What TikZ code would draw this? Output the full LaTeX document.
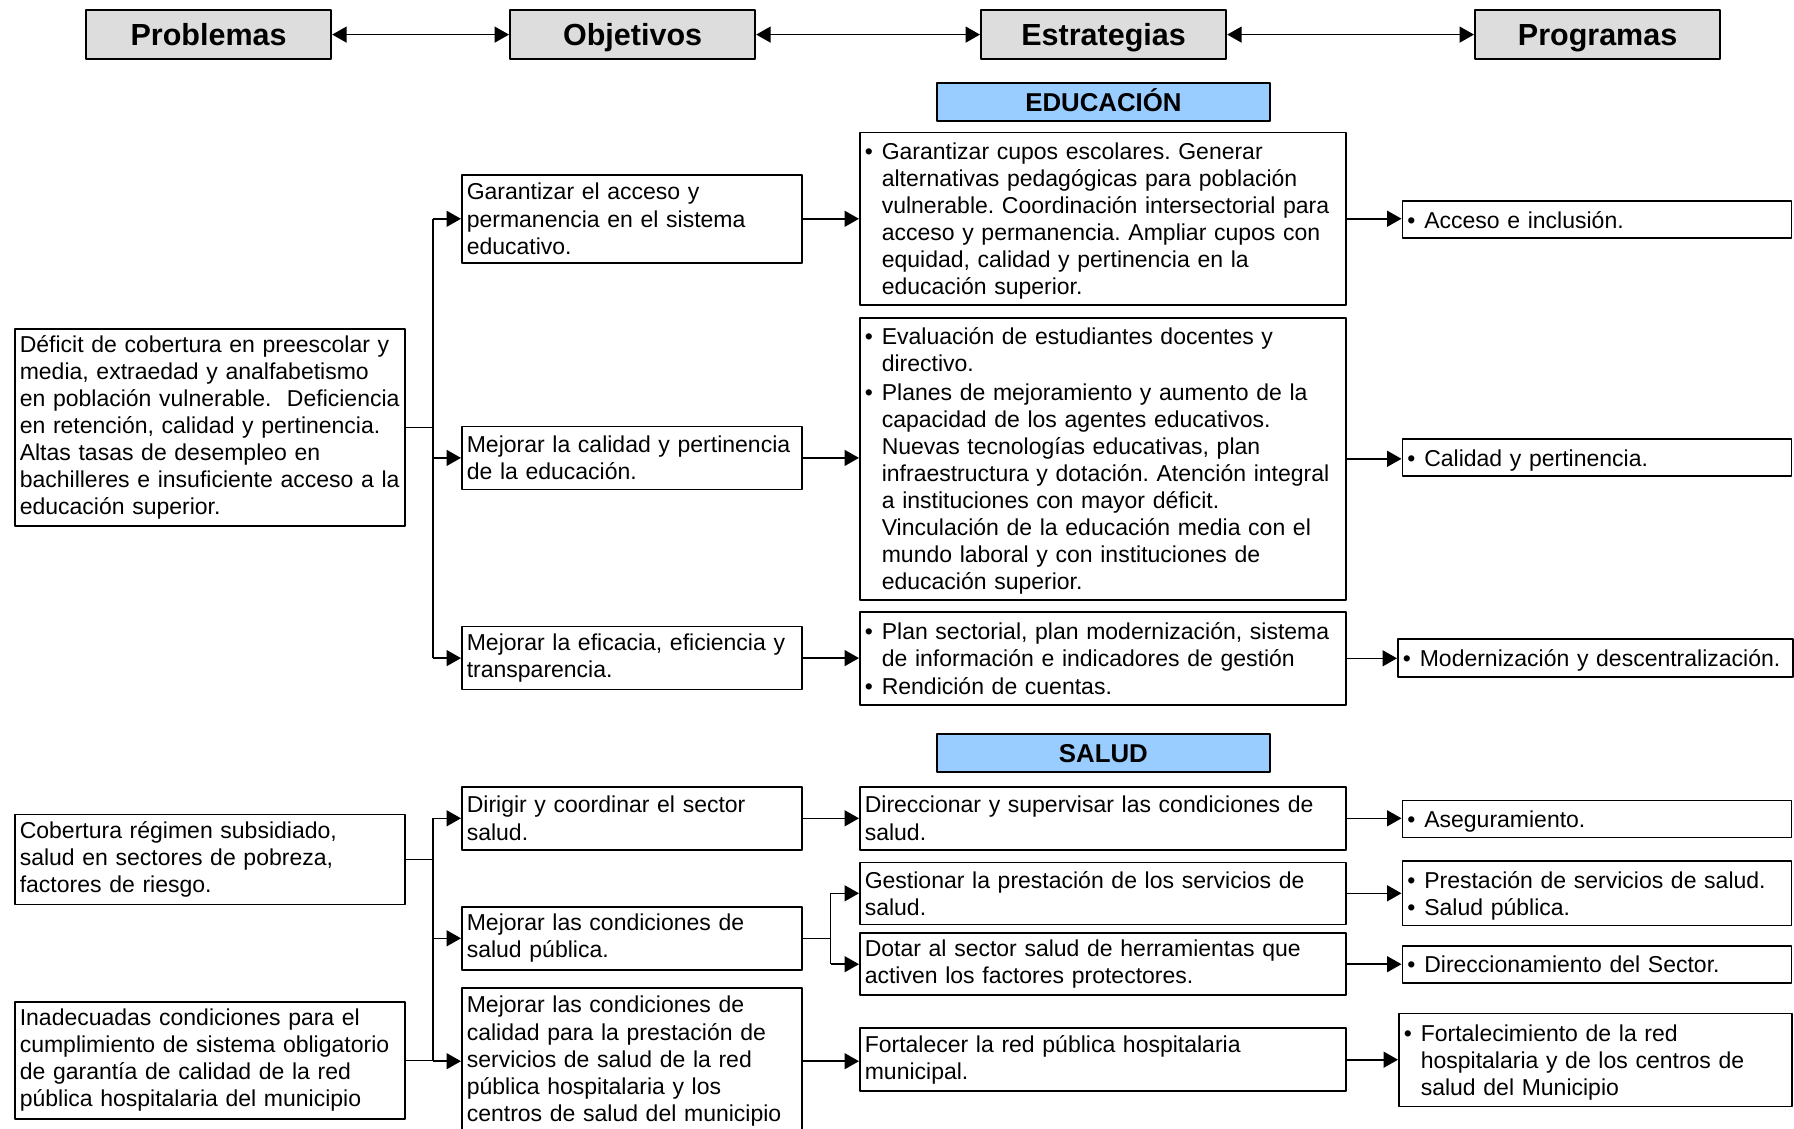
\documentclass[tikz,border=0pt]{standalone}
\usepackage{fontspec}
\setmainfont{Liberation Sans}
\usetikzlibrary{arrows.meta}
\definecolor{cabgris}{HTML}{DDDDDD}
\definecolor{secazul}{HTML}{99CCFF}
\newcommand{\itm}[1]{\makebox[17pt][l]{\textbullet}\begin{tabular}[t]{@{}l@{}}#1\end{tabular}}
\newcommand{\arriba}{\rule{0pt}{25pt}}
\frenchspacing

\begin{document}
\begin{tikzpicture}[x=1pt, y=-1pt, font=\fontsize{23}{27.1}\selectfont, line join=round, >={Triangle[length=14.5pt,width=16pt]},
	caja/.style={draw, line width=1.6pt, anchor=north west, align=left, inner xsep=5pt, inner ysep=2pt},
	cab/.style={draw, line width=2.2pt, fill=cabgris, anchor=north west, minimum width=245pt, minimum height=49pt, inner sep=0pt, text height=21.8pt, text depth=0pt, font=\fontsize{30.5}{36}\selectfont\bfseries},
	sec/.style={draw, line width=1.8pt, fill=secazul, anchor=north west, minimum width=333pt, minimum height=38pt, inner sep=0pt, text height=18.5pt, text depth=0pt, font=\fontsize{25.8}{30}\selectfont\bfseries},
	con/.style={line width=1.6pt}]
	\useasboundingbox (0,0) rectangle (1794,1129);
	\clip (0,0) rectangle (1794,1129);
	\node[cab] (prob) at (85,9) {Problemas};
	\node[cab] (obj) at (509,9) {Objetivos};
	\node[cab] (estr) at (980,9) {Estrategias};
	\node[cab] (prog) at (1474,9) {Programas};
	\draw[con,<->] (prob) -- (obj);
	\draw[con,<->] (obj) -- (estr);
	\draw[con,<->] (estr) -- (prog);
	\node[sec] (edu) at (936,82) {EDUCACIÓN};
	\node[sec] (sal) at (936,733) {SALUD};
	% educacion
	\node[caja, text width=380pt, minimum height=197pt] (p1) at (14,328) {Déficit de cobertura en preescolar y\\ media, extraedad y analfabetismo\\ en población vulnerable.\ \ Deficiencia\\ en retención, calidad y pertinencia.\\ Altas tasas de desempleo en\\ bachilleres e insuficiente acceso a la\\ educación superior.};
	\node[caja, text width=330pt, minimum height=88pt] (o1) at (461,174) {Garantizar el acceso y\\ permanencia en el sistema\\ educativo.};
	\node[caja, text width=330pt, minimum height=63pt] (o2) at (461,425.6) {Mejorar la calidad y pertinencia\\ de la educación.};
	\node[caja, text width=330pt, minimum height=63pt] (o3) at (461,625.8) {Mejorar la eficacia, eficiencia y\\ transparencia.};
	\node[caja, text width=476pt, minimum height=172pt] (e1) at (859,131.6) {\arriba\itm{Garantizar cupos escolares. Generar\\ alternativas pedagógicas para población\\ vulnerable. Coordinación intersectorial para\\ acceso y permanencia. Ampliar cupos con\\ equidad, calidad y pertinencia en la\\ educación superior.}};
	\node[caja, text width=476pt, minimum height=280pt] (e2) at (859,317) {\arriba\itm{Evaluación de estudiantes docentes y\\ directivo.}\\ \itm{Planes de mejoramiento y aumento de la\\ capacidad de los agentes educativos.\\ Nuevas tecnologías educativas, plan\\ infraestructura y dotación. Atención integral\\ a instituciones con mayor déficit.\\ Vinculación de la educación media con el\\ mundo laboral y con instituciones de\\ educación superior.}};
	\node[caja, text width=476pt, minimum height=93pt] (e3) at (859,611) {\arriba\itm{Plan sectorial, plan modernización, sistema\\ de información e indicadores de gestión}\\ \itm{Rendición de cuentas.}};
	\node[caja, text width=379pt, minimum height=37pt] (g1) at (1401.5,200.2) {\arriba\itm{Acceso e inclusión.}};
	\node[caja, text width=379pt, minimum height=37pt] (g2) at (1401.5,438.2) {\arriba\itm{Calidad y pertinencia.}};
	\node[caja, text width=385pt, minimum height=38pt] (g3) at (1397,638.4) {\arriba\itm{Modernización y descentralización.}};
	\coordinate (edubus) at (433,0);
	\draw[con] (p1.east) -- (p1.east -| edubus);
	\draw[con] (o1.west -| edubus) -- (o3.west -| edubus);
	\foreach \o/\e/\g in {o1/e1/g1, o2/e2/g2, o3/e3/g3} {
		\draw[con,->] (\o.west -| edubus) -- (\o.west);
		\draw[con,->] (\o.east) -- (\o.east -| \e.west);
		\draw[con,->] (\e.east) -- (\e.east -| \g.west);
	}
	% salud
	\node[caja, text width=380pt, minimum height=90pt] (p2) at (14,813.5) {Cobertura régimen subsidiado,\\ salud en sectores de pobreza,\\ factores de riesgo.};
	\node[caja, text width=380pt, minimum height=117pt] (p3) at (14,1001) {Inadecuadas condiciones para el\\ cumplimiento de sistema obligatorio\\ de garantía de calidad de la red\\ pública hospitalaria del municipio};
	\node[caja, text width=330pt, minimum height=63pt] (o4) at (461,786) {Dirigir y coordinar el sector\\ salud.};
	\node[caja, text width=330pt, minimum height=63pt] (o5) at (461,906) {Mejorar las condiciones de\\ salud pública.};
	\node[caja, text width=330pt, minimum height=146pt] (o6) at (461,987.4) {Mejorar las condiciones de\\ calidad para la prestación de\\ servicios de salud de la red\\ pública hospitalaria y los\\ centros de salud del municipio};
	\node[caja, text width=476pt, minimum height=63pt] (e4) at (859,786) {Direccionar y supervisar las condiciones de\\ salud.};
	\node[caja, text width=476pt, minimum height=62pt] (e5) at (859,861.5) {Gestionar la prestación de los servicios de\\ salud.};
	\node[caja, text width=476pt, minimum height=62pt] (e6) at (859,932.4) {Dotar al sector salud de herramientas que\\ activen los factores protectores.};
	\node[caja, text width=476pt, minimum height=63pt] (e7) at (859,1027.4) {Fortalecer la red pública hospitalaria\\ municipal.};
	\node[caja, text width=379pt, minimum height=37pt] (g4) at (1401.5,799.7) {\arriba\itm{Aseguramiento.}};
	\node[caja, text width=379pt, minimum height=63pt] (g5) at (1401.5,860.4) {\arriba\itm{Prestación de servicios de salud.}\\ \itm{Salud pública.}};
	\node[caja, text width=379pt, minimum height=37pt] (g6) at (1401.5,945) {\arriba\itm{Direccionamiento del Sector.}};
	\node[caja, text width=383pt, minimum height=93pt] (g7) at (1398,1012.5) {\arriba\itm{Fortalecimiento de la red\\ hospitalaria y de los centros de\\ salud del Municipio}};
	\coordinate (salbus) at (433,0);
	\coordinate (divide) at (830.6,0);
	\draw[con] (p2.east) -- (p2.east -| salbus);
	\draw[con] (p3.east) -- (p3.east -| salbus);
	\draw[con] (o4.west -| salbus) -- (o6.west -| salbus);
	\foreach \o in {o4,o5,o6}
		\draw[con,->] (\o.west -| salbus) -- (\o.west);
	\draw[con,->] (o4.east) -- (o4.east -| e4.west);
	\draw[con] (o5.east) -- (o5.east -| divide);
	\draw[con] (e5.west -| divide) -- (e6.west -| divide);
	\draw[con,->] (e5.west -| divide) -- (e5.west);
	\draw[con,->] (e6.west -| divide) -- (e6.west);
	\draw[con,->] (o6.east) -- (o6.east -| e7.west);
	\foreach \e/\g in {e4/g4, e5/g5, e6/g6, e7/g7}
		\draw[con,->] (\e.east) -- (\e.east -| \g.west);
\end{tikzpicture}
\end{document}
